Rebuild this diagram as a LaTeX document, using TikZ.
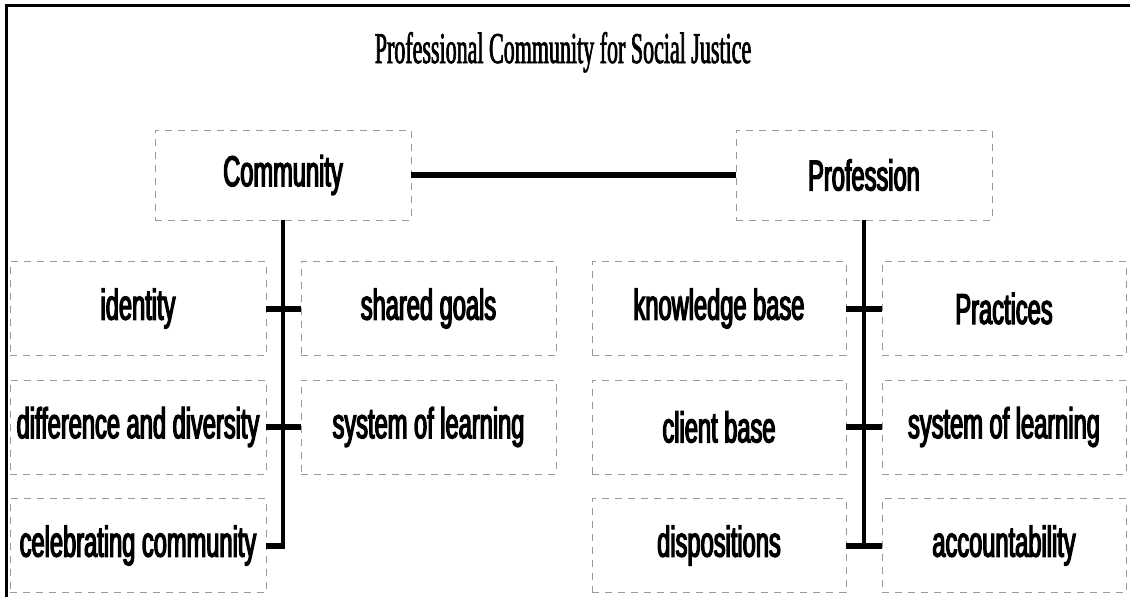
\documentclass[tikz,border=0pt]{standalone}
\usepackage{fontspec}
\newfontfamily\boxfont[FakeStretch=0.55,RawFeature={embolden=3}]{Liberation Sans}
\newfontfamily\titlefont[FakeStretch=0.5,RawFeature={embolden=1.5}]{Liberation Serif}
\begin{document}
\begin{tikzpicture}[x=1pt,y=-1pt,
  box/.style={draw=black!40, line width=0.8pt, dash pattern=on 7pt off 6pt,
    minimum height=94pt, inner sep=0pt,
    font=\boxfont\fontsize{43}{46}\selectfont},
  topbox/.style={box, minimum width=256pt, minimum height=90pt},
  spine/.style={line width=3.4pt},
  tick/.style={line width=6pt},
  link/.style={line width=6pt}]
\useasboundingbox (0,0) rectangle (1130,597);
% outer frame
\draw[line width=3pt] (6,597) -- (6,5) -- (1130,5);
% title
\node[font=\titlefont\fontsize{44}{48}\selectfont, anchor=base] (title) at (563,63) {Professional Community for Social Justice};
% top boxes
\node[topbox] (comm) at (283,175) {Community};
\node[topbox] (prof) at (864,175) {Profession};
% left side boxes
\node[box, minimum width=256pt] (a1) at (138,308.5) {identity};
\node[box, minimum width=256pt] (a2) at (138,427) {difference and diversity};
\node[box, minimum width=256pt] (a3) at (138,545.5) {celebrating community};
\node[box, minimum width=255pt] (b1) at (428.5,308.5) {shared goals};
\node[box, minimum width=255pt] (b2) at (428.5,427) {system of learning};
% right side boxes
\node[box, minimum width=254pt] (c1) at (719,308.5) {knowledge base};
\node[box, minimum width=254pt] (c2) at (719,427) {client base};
\node[box, minimum width=254pt] (c3) at (719,545.5) {dispositions};
\node[box, minimum width=244pt] (d1) at (1004,308.5) {Practices};
\node[box, minimum width=244pt] (d2) at (1004,427) {system of learning};
\node[box, minimum width=244pt] (d3) at (1004,545.5) {accountability};
% connectors
\draw[link] (comm.east) -- (prof.west);
\draw[spine] (comm.south) -- (comm.south |- a3.east);
\draw[tick] (a1.east) -- (b1.west);
\draw[tick] (a2.east) -- (b2.west);
\draw[tick] (a3.east) -- ([xshift=1.7pt]comm.south |- a3.east);
\draw[spine] (prof.south) -- (prof.south |- c3.east);
\draw[tick] (c1.east) -- (d1.west);
\draw[tick] (c2.east) -- (d2.west);
\draw[tick] (c3.east) -- (d3.west);
\end{tikzpicture}
\end{document}
